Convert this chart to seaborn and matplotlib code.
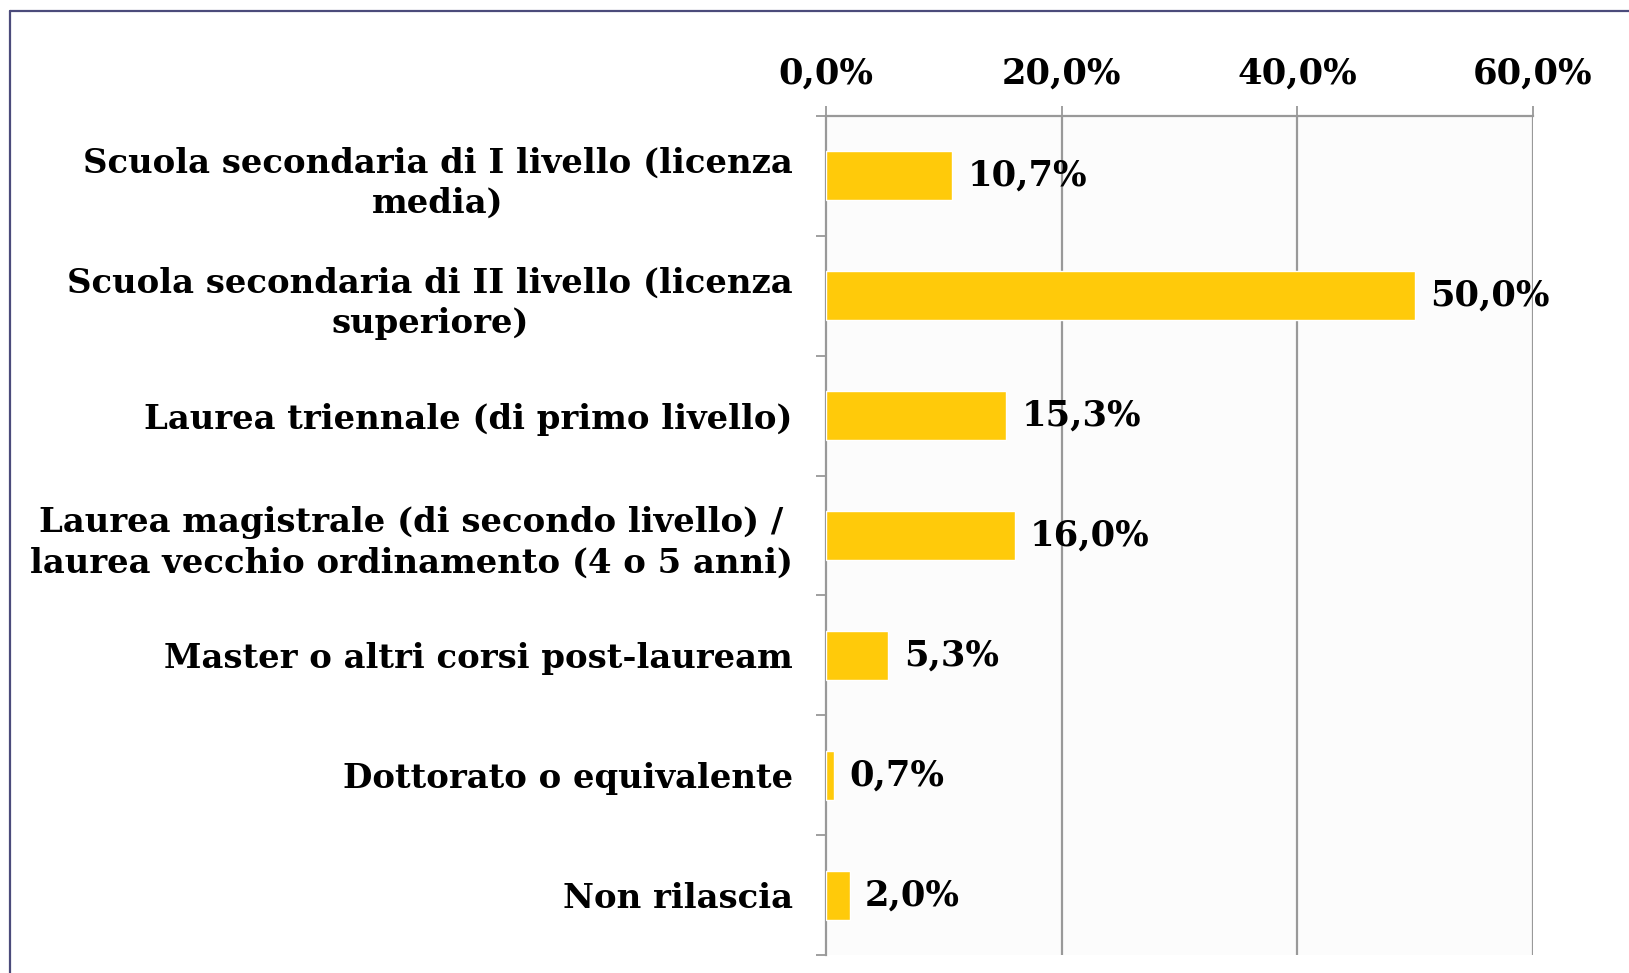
import matplotlib
matplotlib.use("Agg")
import matplotlib.pyplot as plt
from matplotlib.lines import Line2D
from matplotlib.ticker import FuncFormatter, FixedLocator
import seaborn as sns
import pandas as pd
import numpy as np

categories = [
    "Scuola secondaria di I livello (licenza\nmedia)",
    "Scuola secondaria di II livello (licenza\nsuperiore)",
    "Laurea triennale (di primo livello)",
    "Laurea magistrale (di secondo livello) /\nlaurea vecchio ordinamento (4 o 5 anni)",
    "Master o altri corsi post-lauream",
    "Dottorato o equivalente",
    "Non rilascia",
]
values = [10.7, 50.0, 15.3, 16.0, 5.3, 0.7, 2.0]
x_ticks = [0, 20, 40, 60]

df = pd.DataFrame({"cat": categories, "val": values})

sns.set_theme(style="white")
FONT = "DejaVu Serif"
plt.rcParams["font.family"] = [FONT]
plt.rcParams["font.weight"] = "bold"
plt.rcParams["text.color"] = "black"
plt.rcParams["xtick.color"] = "black"
plt.rcParams["ytick.color"] = "black"

W, H = 1629, 973
fig = plt.figure(figsize=(W / 100, H / 100), dpi=100)
ax = fig.add_axes([826 / W, 1 - 955 / H, (1533 - 826) / W, (955 - 116) / H])
ax.set_facecolor("#fcfcfc")

sns.barplot(data=df, x="val", y="cat", orient="h", color="#ffca0a",
            saturation=1, width=0.41, ax=ax, zorder=3)

ax.set_xlim(0, 60)
ax.set_ylim(len(categories) - 0.5, -0.5)
ax.set_xlabel("")
ax.set_ylabel("")

gray = "#999999"
ax.xaxis.tick_top()
ax.xaxis.set_major_locator(FixedLocator(x_ticks))
ax.xaxis.set_major_formatter(FuncFormatter(lambda v, p: f"{v:.1f}%".replace(".", ",")))
ax.tick_params(axis="x", which="major", top=True, bottom=False, direction="out",
               length=7.5, width=1.3, color=gray, labelcolor="black", pad=11, labelsize=25.5)
for t in ax.get_xticklabels():
    t.set_fontweight("bold")

for xv in x_ticks[1:]:
    ax.axvline(xv, color=gray, lw=1.6, zorder=1)

ax.set_yticks(range(len(categories)))
ax.set_yticklabels(categories, multialignment="center", fontsize=24.4, fontweight="bold",
                   color="black", linespacing=1.3)
ax.tick_params(axis="y", which="major", length=0, pad=24)
ax.yaxis.set_minor_locator(FixedLocator(np.arange(-0.5, len(categories), 1.0)))
ax.tick_params(axis="y", which="minor", left=True, direction="out", length=7.5,
               width=1.3, color=gray)

for s in ["right", "bottom"]:
    ax.spines[s].set_visible(False)
for s in ["top", "left"]:
    ax.spines[s].set_color(gray)
    ax.spines[s].set_linewidth(1.6)

labels = [f"{v:.1f}%".replace(".", ",") for v in values]
ax.bar_label(ax.containers[0], labels=labels, padding=11, fontsize=25.5,
             fontweight="bold", color="black")

# outer frame (left and top edges visible)
fig.add_artist(Line2D([10 / W, 10 / W], [0, 1 - 11 / H], transform=fig.transFigure,
                      color="#4b4b7b", lw=1.6))
fig.add_artist(Line2D([10 / W, 1], [1 - 11 / H, 1 - 11 / H], transform=fig.transFigure,
                      color="#4b4b7b", lw=1.6))

fig.savefig("out.png", dpi=100, facecolor="white")
